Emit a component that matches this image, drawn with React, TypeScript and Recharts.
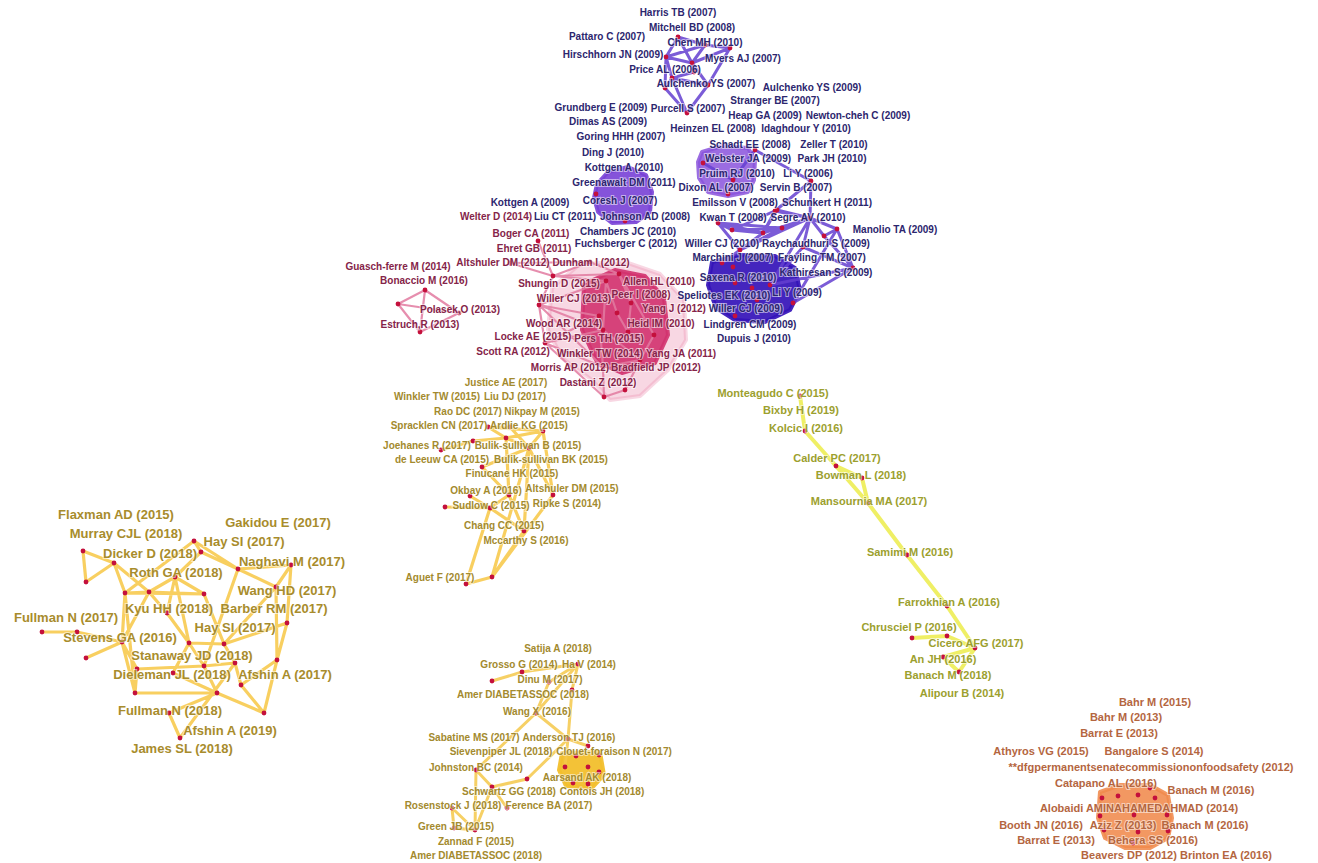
import { ScatterChart, Scatter, XAxis, YAxis } from 'recharts'

type P = [number, number]
type L = [string, number, number]

// ---- purple cluster ----
const purpleLabels: L[] = [
  ['Harris TB (2007)', 678, 12], ['Mitchell BD (2008)', 692, 27], ['Pattaro C (2007)', 607, 36],
  ['Chen MH (2010)', 705, 42], ['Hirschhorn JN (2009)', 613, 54], ['Myers AJ (2007)', 743, 58],
  ['Price AL (2006)', 665, 69], ['Aulchenko YS (2007)', 706, 83], ['Aulchenko YS (2009)', 812, 87],
  ['Stranger BE (2007)', 775, 100], ['Grundberg E (2009)', 601, 107], ['Purcell S (2007)', 688, 108],
  ['Heap GA (2009)', 765, 115], ['Newton-cheh C (2009)', 858, 115], ['Dimas AS (2009)', 608, 121],
  ['Heinzen EL (2008)', 713, 128], ['Idaghdour Y (2010)', 806, 128], ['Goring HHH (2007)', 621, 136],
  ['Schadt EE (2008)', 750, 144], ['Zeller T (2010)', 834, 144], ['Ding J (2010)', 613, 152],
  ['Webster JA (2009)', 748, 158], ['Park JH (2010)', 832, 158], ['Kottgen A (2010)', 624, 167],
  ['Pruim RJ (2010)', 737, 173], ['Li Y (2006)', 808, 173], ['Greenawalt DM (2011)', 624, 182],
  ['Dixon AL (2007)', 716, 187], ['Servin B (2007)', 796, 187], ['Coresh J (2007)', 620, 200],
  ['Kottgen A (2009)', 530, 202], ['Emilsson V (2008)', 735, 202], ['Schunkert H (2011)', 827, 202],
  ['Liu CT (2011)', 565, 216], ['Johnson AD (2008)', 645, 216], ['Kwan T (2008)', 733, 217],
  ['Segre AV (2010)', 808, 217], ['Manolio TA (2009)', 895, 229], ['Chambers JC (2010)', 628, 231],
  ['Fuchsberger C (2012)', 626, 243], ['Willer CJ (2010)', 722, 243], ['Raychaudhuri S (2009)', 816, 243],
  ['Marchini J (2007)', 733, 257], ['Frayling TM (2007)', 822, 257], ['Kathiresan S (2009)', 826, 272],
  ['Saxena R (2010)', 738, 277], ['Li Y (2009)', 797, 292], ['Speliotes EK (2010)', 724, 295],
  ['Willer CJ (2009)', 746, 308], ['Lindgren CM (2009)', 750, 324], ['Dupuis J (2010)', 754, 338],
]
const purpleDots: P[] = [
  [678, 37], [730, 48], [692, 63], [666, 57], [672, 78], [665, 88], [708, 85], [687, 113], [694, 72],
  [703, 163], [733, 180], [728, 194], [811, 181], [775, 211], [718, 223], [732, 230], [763, 233],
  [782, 228], [810, 218], [837, 229], [824, 236], [777, 210], [722, 263], [733, 267], [735, 283],
  [752, 288], [770, 285], [793, 303], [735, 316], [757, 300], [740, 250], [596, 194], [625, 221],
  [853, 268], [803, 247], [755, 150], [705, 45],
]
const purpleEdges: P[] = [
  [3, 36], [36, 1], [0, 36], [3, 2], [2, 1], [0, 3], [3, 4], [4, 5], [5, 7], [6, 7], [4, 6], [2, 6],
  [8, 4], [1, 6], [3, 5], [2, 8], [36, 2], [0, 2], [4, 7], [35, 12], [12, 18], [12, 13], [13, 18],
  [18, 19], [19, 20], [20, 18], [14, 17], [15, 16], [16, 18], [17, 30], [30, 14], [18, 26], [19, 27],
  [18, 30], [34, 33], [33, 20], [26, 33], [21, 18], [21, 16], [13, 16], [22, 30], [15, 17], [14, 15],
  [16, 30], [17, 18], [19, 33], [27, 33], [10, 35], [9, 10], [14, 16], [15, 21], [34, 18], [34, 26],
]
const coreshHull: P[] = [
  [597, 184], [608, 172], [628, 167], [646, 175], [652, 192], [650, 212], [636, 222], [612, 223], [598, 212], [594, 198],
]
const schadtHull: P[] = [
  [702, 152], [722, 146], [748, 148], [755, 160], [754, 180], [748, 192], [728, 196], [708, 192], [699, 178], [698, 162],
]
const saxenaHull: P[] = [
  [712, 262], [740, 255], [775, 256], [795, 268], [800, 290], [790, 310], [765, 322], [735, 320], [716, 308], [708, 285],
]

// ---- pink cluster ----
const pinkLabels: L[] = [
  ['Welter D (2014)', 496, 216], ['Boger CA (2011)', 531, 233], ['Ehret GB (2011)', 534, 248],
  ['Guasch-ferre M (2014)', 398, 266], ['Altshuler DM (2012)', 503, 262], ['Dunham I (2012)', 591, 262],
  ['Bonaccio M (2016)', 424, 280], ['Shungin D (2015)', 559, 283], ['Allen HL (2010)', 659, 281],
  ['Willer CJ (2013)', 574, 298], ['Peer I (2008)', 641, 294], ['Yang J (2012)', 674, 308],
  ['Polasek,O (2013)', 460, 309], ['Estruch,R (2013)', 420, 324], ['Wood AR (2014)', 564, 323],
  ['Heid IM (2010)', 661, 323], ['Locke AE (2015)', 533, 336], ['Pers TH (2015)', 609, 338],
  ['Scott RA (2012)', 513, 351], ['Winkler TW (2014)', 600, 353], ['Yang JA (2011)', 681, 353],
  ['Morris AP (2012)', 570, 367], ['Bradfield JP (2012)', 656, 367], ['Dastani Z (2012)', 598, 382],
]
const pinkDots: P[] = [
  [538, 241], [553, 276], [606, 281], [619, 274], [631, 303], [617, 313], [539, 305], [599, 316],
  [628, 332], [654, 335], [603, 330], [545, 343], [603, 367], [640, 360], [604, 397], [625, 390],
  [510, 263], [590, 262], [398, 304], [425, 290], [459, 313], [420, 332],
]
const pinkEdges: P[] = [
  [0, 1], [1, 2], [1, 6], [6, 7], [6, 11], [11, 12], [12, 14], [14, 15], [15, 13], [1, 3], [3, 9],
  [2, 10], [16, 17], [16, 1], [17, 3], [6, 10], [11, 10], [7, 12], [9, 13], [12, 13], [2, 5], [4, 8],
  [5, 8], [3, 4], [18, 19], [19, 20], [18, 20], [18, 21], [21, 20], [19, 21], [1, 17], [6, 2],
  [11, 14], [10, 13], [11, 7], [6, 12],
]
const pinkOuterHull: P[] = [
  [552, 288], [580, 264], [625, 262], [660, 274], [684, 300], [686, 340], [668, 370], [640, 396],
  [610, 400], [592, 380], [562, 358], [548, 330],
]
const pinkInnerHull: P[] = [
  [584, 284], [615, 270], [645, 276], [664, 298], [668, 335], [655, 363], [622, 373], [597, 362], [582, 330],
]

// ---- gold cluster, left ----
const leftLabels: L[] = [
  ['Flaxman AD (2015)', 116, 514], ['Gakidou E (2017)', 278, 522], ['Murray CJL (2018)', 126, 533],
  ['Hay SI (2017)', 244, 541], ['Dicker D (2018)', 150, 553], ['Naghavi M (2017)', 292, 561],
  ['Roth GA (2018)', 176, 572], ['Wang HD (2017)', 287, 590], ['Kyu HH (2018)', 169, 608],
  ['Barber RM (2017)', 274, 608], ['Fullman N (2017)', 66, 617], ['Hay SI (2017)', 235, 627],
  ['Stevens GA (2016)', 120, 637], ['Stanaway JD (2018)', 192, 655], ['Dieleman JL (2018)', 172, 674],
  ['Afshin A (2017)', 285, 674], ['Fullman N (2018)', 170, 710], ['Afshin A (2019)', 230, 730],
  ['James SL (2018)', 182, 748],
]
const leftDots: P[] = [
  [83, 551], [86, 582], [114, 563], [125, 593], [149, 592], [204, 594], [194, 541], [201, 552],
  [238, 569], [291, 565], [276, 587], [287, 623], [175, 577], [167, 613], [42, 632], [77, 632],
  [122, 642], [86, 658], [189, 643], [224, 644], [277, 660], [204, 666], [235, 663], [137, 669],
  [173, 673], [135, 693], [217, 693], [241, 685], [264, 713], [169, 713], [180, 738],
]
const leftEdges: P[] = [
  [0, 1], [0, 2], [1, 2], [2, 3], [3, 4], [4, 5], [3, 5], [2, 4], [6, 7], [6, 3], [7, 8], [6, 8],
  [8, 9], [8, 10], [9, 10], [9, 11], [10, 20], [11, 20], [4, 12], [12, 5], [12, 18], [3, 16], [4, 16],
  [14, 15], [15, 16], [16, 17], [16, 25], [16, 23], [23, 21], [21, 22], [22, 19], [19, 18], [18, 13],
  [13, 4], [12, 13], [18, 21], [21, 26], [26, 25], [25, 23], [22, 27], [27, 20], [27, 28], [28, 26],
  [26, 29], [29, 30], [30, 22], [24, 26], [19, 10], [5, 19], [8, 21], [11, 19], [20, 28], [24, 18],
  [3, 25], [7, 12],
]

// ---- gold cluster, middle ----
const midLabels: L[] = [
  ['Justice AE (2017)', 506, 382], ['Winkler TW (2015)', 437, 396], ['Liu DJ (2017)', 515, 396],
  ['Rao DC (2017)', 468, 411], ['Nikpay M (2015)', 542, 411], ['Spracklen CN (2017)', 439, 425],
  ['Ardlie KG (2015)', 529, 425], ['Joehanes R (2017)', 427, 445], ['Bulik-sullivan B (2015)', 528, 445],
  ['de Leeuw CA (2015)', 442, 459], ['Bulik-sullivan BK (2015)', 551, 459], ['Finucane HK (2015)', 512, 473],
  ['Okbay A (2016)', 486, 490], ['Altshuler DM (2015)', 572, 488], ['Sudlow C (2015)', 491, 505],
  ['Ripke S (2014)', 567, 503], ['Chang CC (2015)', 504, 525], ['Mccarthy S (2016)', 526, 540],
  ['Aguet F (2017)', 440, 577],
]
const midDots: P[] = [
  [488, 427], [506, 438], [473, 441], [441, 450], [529, 448], [543, 431], [482, 467], [470, 496],
  [509, 495], [445, 507], [490, 508], [553, 495], [524, 531], [492, 577], [466, 584], [510, 427],
]
const midEdges: P[] = [
  [0, 1], [1, 5], [0, 5], [2, 1], [3, 2], [1, 4], [4, 5], [4, 6], [4, 11], [6, 8], [8, 10], [7, 10],
  [9, 10], [10, 12], [12, 13], [13, 14], [14, 10], [13, 11], [5, 11], [8, 12], [4, 12], [1, 8],
  [15, 4], [15, 0], [13, 4],
]

// ---- gold cluster, bottom ----
const bottomLabels: L[] = [
  ['Satija A (2018)', 558, 648], ['Grosso G (2014)', 519, 664], ['Ha V (2014)', 589, 664],
  ['Dinu M (2017)', 550, 679], ['Amer DIABETASSOC (2018)', 523, 694], ['Wang X (2016)', 537, 711],
  ['Sabatine MS (2017)', 474, 737], ['Anderson TJ (2016)', 569, 737], ['Sievenpiper JL (2018)', 501, 751],
  ['Clouet-foraison N (2017)', 614, 751], ['Johnston BC (2014)', 476, 767], ['Aarsand AK (2018)', 587, 777],
  ['Schwartz GG (2018)', 509, 791], ['Contois JH (2018)', 602, 791], ['Rosenstock J (2018)', 453, 805],
  ['Ference BA (2017)', 549, 805], ['Green JB (2015)', 456, 826], ['Zannad F (2015)', 476, 841],
  ['Amer DIABETASSOC (2018)', 476, 855],
]
const bottomDots: P[] = [
  [492, 681], [522, 672], [549, 682], [572, 690], [536, 713], [568, 739], [588, 746], [576, 756],
  [599, 755], [565, 767], [588, 767], [599, 772], [573, 783], [588, 784], [476, 770], [527, 779],
  [492, 787], [507, 808], [452, 808], [454, 828], [475, 830], [578, 664],
]
const bottomEdges: P[] = [
  [0, 1], [1, 21], [21, 3], [21, 2], [2, 4], [4, 21], [3, 5], [4, 5], [4, 14], [14, 20], [5, 15],
  [15, 16], [16, 17], [16, 14], [18, 20], [19, 20], [18, 19], [5, 6], [5, 9], [16, 20],
]
const bottomHull: P[] = [[562, 753], [600, 752], [604, 775], [592, 788], [566, 786], [559, 770]]

// ---- yellow chain, right ----
const chainLabels: L[] = [
  ['Monteagudo C (2015)', 773, 393], ['Bixby H (2019)', 801, 410], ['Kolcic I (2016)', 806, 428],
  ['Calder PC (2017)', 837, 458], ['Bowman L (2018)', 861, 475], ['Mansournia MA (2017)', 869, 501],
  ['Samimi M (2016)', 910, 552], ['Farrokhian A (2016)', 949, 602], ['Chrusciel P (2016)', 909, 627],
  ['Cicero AFG (2017)', 976, 643], ['An JH (2016)', 943, 659], ['Banach M (2018)', 948, 675],
  ['Alipour B (2014)', 962, 693],
]
const chainDots: P[] = [
  [800, 396], [805, 431], [836, 466], [862, 478], [868, 503], [907, 555], [947, 606], [912, 638],
  [947, 636], [975, 648], [943, 657], [959, 672],
]
const chainEdges: P[] = [
  [0, 1], [1, 2], [2, 3], [2, 4], [3, 4], [4, 5], [5, 6], [6, 9], [9, 11], [11, 10], [10, 9],
  [7, 8], [8, 9],
]

// ---- orange cluster ----
const orangeLabels: L[] = [
  ['Bahr M (2015)', 1155, 702], ['Bahr M (2013)', 1126, 717], ['Barrat E (2013)', 1119, 733],
  ['Athyros VG (2015)', 1041, 751], ['Bangalore S (2014)', 1154, 751],
  ['**dfgpermanentsenatecommissiononfoodsafety  (2012)', 1151, 767],
  ['Catapano AL (2016)', 1106, 783], ['Banach M (2016)', 1211, 790],
  ['Alobaidi AMINAHAMEDAHMAD (2014)', 1139, 808], ['Booth JN (2016)', 1041, 825],
  ['Aziz Z (2013)', 1123, 825], ['Banach M (2016)', 1205, 825], ['Barrat E (2013)', 1056, 840],
  ['Behera SS (2016)', 1153, 840], ['Beavers DP (2012)', 1129, 855], ['Brinton EA (2016)', 1226, 855],
]
const orangeDots: P[] = [
  [1102, 798], [1118, 796], [1138, 795], [1155, 798], [1100, 816], [1134, 815], [1167, 815],
  [1104, 830], [1138, 832], [1168, 831], [1150, 788], [1133, 843],
]
const orangeHull: P[] = [
  [1100, 792], [1120, 785], [1150, 785], [1168, 795], [1172, 818], [1168, 838], [1150, 848],
  [1125, 848], [1105, 838], [1098, 818],
]

const FONT = '"Liberation Sans", Arial, sans-serif'

const toPts = (a: P[]) => a.map(([x, y]) => ({ x, y }))
const toLabels = (a: L[]) => a.map(([name, x, y]) => ({ name, x, y }))
const toSegs = (dots: P[], edges: P[]) =>
  edges.flatMap(([a, b]) => [
    { x: dots[a][0], y: dots[a][1] },
    { x: dots[b][0], y: dots[b][1] },
  ])

const noShape = () => <g />

// draws every consecutive pair of points as one edge
const segLine = (color: string, width: number, opacity: number) => (props: any) => {
  const p = props.points || []
  let d = ''
  for (let i = 0; i + 1 < p.length; i += 2) d += `M${p[i].x},${p[i].y}L${p[i + 1].x},${p[i + 1].y}`
  return (
    <path d={d} stroke={color} strokeWidth={width} strokeOpacity={opacity} fill="none" strokeLinecap="round" />
  )
}

// closed filled polygon through the points
const hullLine = (fill: string, opacity: number) => (props: any) => {
  const p = props.points || []
  const d = p.map((q: any, i: number) => `${i ? 'L' : 'M'}${q.x},${q.y}`).join('') + 'Z'
  return (
    <path d={d} fill={fill} fillOpacity={opacity} stroke={fill} strokeOpacity={opacity} strokeWidth={4} strokeLinejoin="round" />
  )
}

const dotShape = (props: any) => <circle cx={props.cx} cy={props.cy} r={2.4} fill="#c4103c" />

const labelShape = (color: string, size: number) => (props: any) => (
  <text
    x={props.cx}
    y={props.cy}
    textAnchor="middle"
    dominantBaseline="central"
    fill={color}
    fontSize={size}
    fontWeight="bold"
    fontFamily={FONT}
    stroke="#ffffff"
    strokeWidth={2}
    strokeOpacity={0.55}
    paintOrder="stroke"
  >
    {props.payload.name}
  </text>
)

const hulls = [
  { pts: pinkOuterHull, color: '#ec96b6', op: 0.38 },
  { pts: pinkInnerHull, color: '#d2326e', op: 0.9 },
  { pts: coreshHull, color: '#7840d6', op: 0.9 },
  { pts: schadtHull, color: '#8a52dc', op: 0.85 },
  { pts: saxenaHull, color: '#3412b8', op: 0.92 },
  { pts: bottomHull, color: '#f2bf2c', op: 0.95 },
  { pts: orangeHull, color: '#f08a4c', op: 0.88 },
]

const groups = [
  { labels: pinkLabels, dots: pinkDots, edges: pinkEdges, text: '#852449', edge: '#e27aa0', w: 2.2, size: 10 },
  { labels: purpleLabels, dots: purpleDots, edges: purpleEdges, text: '#2c266e', edge: '#6440d0', w: 3, size: 10 },
  { labels: leftLabels, dots: leftDots, edges: leftEdges, text: '#a88c2c', edge: '#f7c744', w: 3.2, size: 13 },
  { labels: midLabels, dots: midDots, edges: midEdges, text: '#a38a2e', edge: '#f7c744', w: 3.2, size: 10 },
  { labels: bottomLabels, dots: bottomDots, edges: bottomEdges, text: '#a38a2e', edge: '#f5c84a', w: 3, size: 10 },
  { labels: chainLabels, dots: chainDots, edges: chainEdges, text: '#9ca02e', edge: '#ecec4a', w: 4, size: 11 },
  { labels: orangeLabels, dots: orangeDots, edges: [] as P[], text: '#b4663f', edge: '#f08a4c', w: 2, size: 11 },
]

export default function App() {
  return (
    <div style={{ position: 'absolute', left: 0, top: 0, width: 1318, height: 863, background: '#fff' }}>
      <ScatterChart width={1318} height={863} margin={{ top: 0, right: 0, bottom: 0, left: 0 }}>
        <XAxis type="number" dataKey="x" domain={[0, 1318]} hide />
        <YAxis type="number" dataKey="y" domain={[0, 863]} reversed hide />
        {hulls.map((h, i) => (
          <Scatter
            key={`hull-${i}`}
            data={toPts(h.pts)}
            shape={noShape}
            line={hullLine(h.color, h.op)}
            isAnimationActive={false}
          />
        ))}
        {groups.map((g, i) => (
          <Scatter
            key={`edges-${i}`}
            data={toSegs(g.dots, g.edges)}
            shape={noShape}
            line={segLine(g.edge, g.w, 0.85)}
            isAnimationActive={false}
          />
        ))}
        {groups.map((g, i) => (
          <Scatter key={`dots-${i}`} data={toPts(g.dots)} shape={dotShape} isAnimationActive={false} />
        ))}
        {groups.map((g, i) => (
          <Scatter
            key={`labels-${i}`}
            data={toLabels(g.labels)}
            shape={labelShape(g.text, g.size)}
            isAnimationActive={false}
          />
        ))}
      </ScatterChart>
    </div>
  )
}
